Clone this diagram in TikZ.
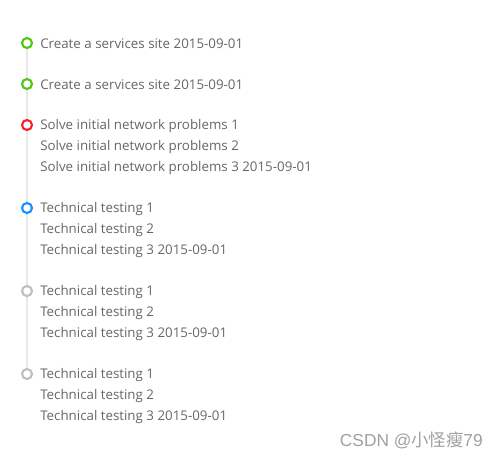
\documentclass[tikz,border=0pt]{standalone}
\usepackage{fontspec}
\setmainfont{Open Sans}
\newfontfamily\cjk{Noto Sans CJK SC}
\newfontfamily\wmfont{Liberation Sans}
\definecolor{tgreen}{HTML}{52C41A}
\definecolor{tred}{HTML}{F5222D}
\definecolor{tblue}{HTML}{1890FF}
\definecolor{tgray}{HTML}{BFBFBF}
\definecolor{tline}{HTML}{E8E8E8}
\definecolor{ttext}{HTML}{666666}
\definecolor{wm}{HTML}{A0A0A0}
\begin{document}
\begin{tikzpicture}[x=0.75pt,y=-0.75pt,
  dot/.style={circle,draw=#1,line width=1.6pt,fill=white,minimum size=7.5pt,inner sep=0pt},
  item/.style={anchor=west,text=ttext,font=\fontsize{10pt}{15.75pt}\selectfont,inner sep=0pt},
  tl/.style={draw=tline,line width=1.5pt}]
\useasboundingbox (0,0) rectangle (498,458);
\coordinate (top) at (27,43);
\coordinate (bot) at (27,374);
\draw[tl] (top) -- (bot);
\node[dot=tgreen] (d1) at (27,43) {};
\node[dot=tgreen] (d2) at (27,84) {};
\node[dot=tred] (d3) at (27,125) {};
\node[dot=tblue] (d4) at (27,208) {};
\node[dot=tgray] (d5) at (27,291) {};
\node[dot=tgray] (d6) at (27,374) {};
\begin{scope}[yshift=-0.75pt]
\node[item] (t1) at (40,43) {Create a services site 2015-09-01};
\node[item] (t2) at (40,84) {Create a services site 2015-09-01};
\node[item] (t3a) at (40,125) {Solve initial network problems 1};
\node[item] (t3b) at (40,146) {Solve initial network problems 2};
\node[item] (t3c) at (40,167) {Solve initial network problems 3 2015-09-01};
\node[item] (t4a) at (40,208) {Technical testing 1};
\node[item] (t4b) at (40,229) {Technical testing 2};
\node[item] (t4c) at (40,250) {Technical testing 3 2015-09-01};
\node[item] (t5a) at (40,291) {Technical testing 1};
\node[item] (t5b) at (40,312) {Technical testing 2};
\node[item] (t5c) at (40,333) {Technical testing 3 2015-09-01};
\node[item] (t6a) at (40,374) {Technical testing 1};
\node[item] (t6b) at (40,395) {Technical testing 2};
\node[item] (t6c) at (40,416) {Technical testing 3 2015-09-01};
\end{scope}
\node[anchor=east,text=wm,inner sep=0pt,font=\wmfont\fontsize{13pt}{15pt}\selectfont] (wm) at (483,440) {CSDN @{\cjk 小怪瘦}79};
\end{tikzpicture}
\end{document}
